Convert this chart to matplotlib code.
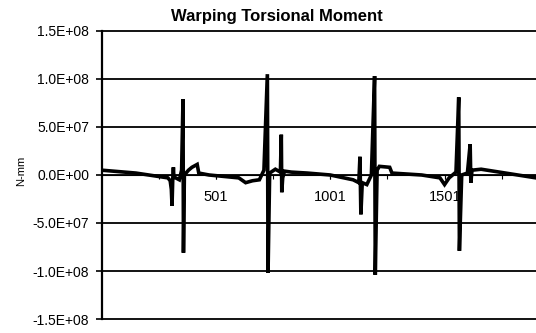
import matplotlib.pyplot as plt
from matplotlib.ticker import FuncFormatter, MultipleLocator

# station numbers along the member and warping torsional moment (units of 1e7 N-mm)
station = [1, 150, 290, 300, 305, 308, 311, 314, 316, 340, 350, 356, 358, 362,
           380, 395, 418, 425, 470, 600, 630, 660, 690, 710, 725, 728, 735,
           760, 782, 786, 788, 792, 800, 830, 900, 1000, 1100, 1125, 1130,
           1134, 1140, 1160, 1180, 1194, 1197, 1205, 1215, 1260, 1270, 1400,
           1480, 1500, 1520, 1550, 1562, 1565, 1575, 1600, 1612, 1615, 1620,
           1660, 1900]
moment = [0.5, 0.2, -0.3, -0.6, -1.5, -3.2, -0.5, 0.8, -0.2, -0.5, 0.5, 7.9,
          -8.1, 0.0, 0.5, 0.8, 1.1, 0.2, 0.0, -0.3, -0.8, -0.6, -0.5, 0.5,
          10.5, -10.2, 0.2, 0.6, 0.3, 4.2, -1.8, -0.3, 0.4, 0.3, 0.2, 0.0,
          -0.5, -0.8, 1.9, -4.1, -0.8, -1.0, 0.0, 10.3, -10.4, 0.5, 0.9, 0.8,
          0.2, 0.0, -0.3, -1.0, -0.3, 0.3, 8.1, -7.9, 0.0, 0.2, 3.2, -0.8,
          0.5, 0.6, -0.3]

y_ticks = [-1.5e8, -1.0e8, -5.0e7, 0.0, 5.0e7, 1.0e8, 1.5e8]
x_labels = [501, 1001, 1501]

plt.rcParams['font.family'] = ['Liberation Sans', 'DejaVu Sans']


def sci(v, pos):
    # Excel style 0.0E+00 labels
    s = '%.1E' % v
    mant, exp = s.split('E')
    return '%sE%+03d' % (mant, int(exp))


fig = plt.figure(figsize=(5.36, 3.33), dpi=100)
ax = fig.add_axes([0.19, 0.042, 0.81, 0.865])

ax.plot(station, [m * 1e7 for m in moment], color='black', lw=2.6,
        solid_joinstyle='miter')

ax.set_xlim(1, 1900)
ax.set_ylim(-1.5e8, 1.5e8)

# horizontal gridlines at every major y tick
ax.set_yticks(y_ticks)
ax.yaxis.set_major_formatter(FuncFormatter(sci))
for v in y_ticks:
    ax.axhline(v, color='black', lw=1.3, zorder=0, clip_on=False)

# category axis crossing at zero
ax.spines['bottom'].set_position(('data', 0))
ax.spines['bottom'].set_linewidth(0.8)
ax.spines['right'].set_visible(False)
ax.spines['top'].set_visible(False)
ax.spines['left'].set_linewidth(1.6)
ax.set_xticks(x_labels)
ax.xaxis.set_minor_locator(MultipleLocator(250))
ax.tick_params(axis='x', which='both', direction='out', length=3, width=0.8,
               labelsize=10.5, pad=8)
ax.tick_params(axis='y', direction='out', length=4, width=1.2, labelsize=10,
               pad=5)

fig.text(21 / 536, 1 - 171 / 333, 'N-mm', rotation=90, fontsize=8,
         ha='center', va='center')
fig.text(277 / 536, 1 - 17 / 333, 'Warping Torsional Moment', fontsize=12,
         fontweight='bold', ha='center', va='center')

fig.savefig('out.png', dpi=100)
